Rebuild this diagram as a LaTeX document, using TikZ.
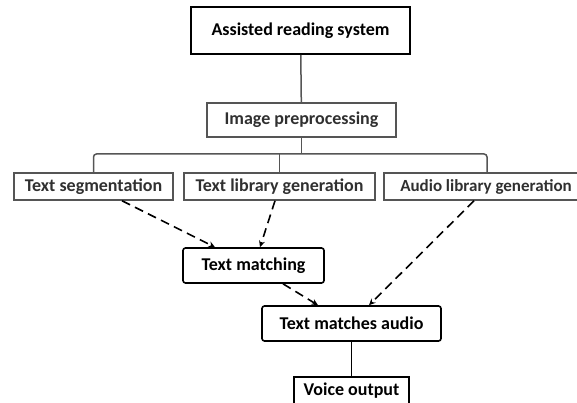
\documentclass[tikz,border=0pt]{standalone}
\usepackage{fontspec}
\setmainfont{Carlito}
\usepackage{tikz}
\usetikzlibrary{arrows.meta}

\definecolor{boxgray}{HTML}{555555}
\definecolor{txtgray}{HTML}{303030}

\begin{document}
\begin{tikzpicture}[x=1pt,y=-1pt,
	blackbox/.style={draw=black, line width=1.8pt, inner sep=0pt, font=\bfseries\fontsize{18}{21}\selectfont, text=black},
	graybox/.style={draw=boxgray, line width=1.5pt, inner sep=0pt, font=\bfseries\fontsize{18}{21}\selectfont, text=txtgray},
	roundbox/.style={blackbox, line width=1.6pt, rounded corners=2.5pt},
	dasharrow/.style={line width=1.6pt, dash pattern=on 9pt off 5.5pt, -{Stealth[length=6.5pt,width=6pt]}}]
		\path[use as bounding box, clip] (0,0) rectangle (577,403);
		\node[blackbox, minimum width=219pt, minimum height=47pt] (sys) at (300.5,30.5) {Assisted reading system};
		\node[graybox, minimum width=189pt, minimum height=34pt] (pre) at (301.5,120) {Image preprocessing};
		\foreach \x/\w/\alph/\name in {
			93.5/159/seg/Text segmentation,
			279.5/191/lib/Text library generation
		}{
			\node[graybox, minimum width=\w pt, minimum height=27pt] (\alph) at (\x,186.5) {\name};
		}
		\node[graybox, minimum width=204pt, minimum height=27pt, font=\bfseries\fontsize{17}{20}\selectfont] (aud) at (486,186.5) {Audio library generation};
		\node[roundbox, minimum width=141pt, minimum height=35pt] (match) at (253.5,265.5) {Text matching};
		\node[roundbox, minimum width=179pt, minimum height=35pt] (mau) at (351.5,323.5) {Text matches audio};
		\node[blackbox, line width=1.6pt, minimum width=115pt, minimum height=27pt] (voice) at (351.5,390.5) {Voice output};
		% tree lines
		\coordinate (bus) at (301.5,154);
		\draw[boxgray, line width=1.5pt] (sys) -- (pre);
		\draw[boxgray, line width=1.5pt] (pre) -- (bus);
		\draw[boxgray, line width=1.5pt, rounded corners=3pt] (seg.north) |- (bus) -| ([xshift=1pt]aud.north);
		\draw[boxgray, line width=1.5pt] (lib.north) -- (lib.north |- bus);
		% dashed arrows
		\draw[dasharrow] ([xshift=28.5pt]seg.south) -- ([xshift=-38.5pt]match.north);
		\draw[dasharrow] ([xshift=-4.5pt]lib.south) -- ([xshift=6.5pt]match.north);
		\draw[dasharrow] ([xshift=-12pt]aud.south) -- ([xshift=17.5pt]mau.north);
		\draw[dasharrow] ([xshift=29.5pt]match.south) -- ([xshift=-33.5pt]mau.north);
		\draw[line width=1.5pt] (mau) -- (voice);
	\end{tikzpicture}
\end{document}
